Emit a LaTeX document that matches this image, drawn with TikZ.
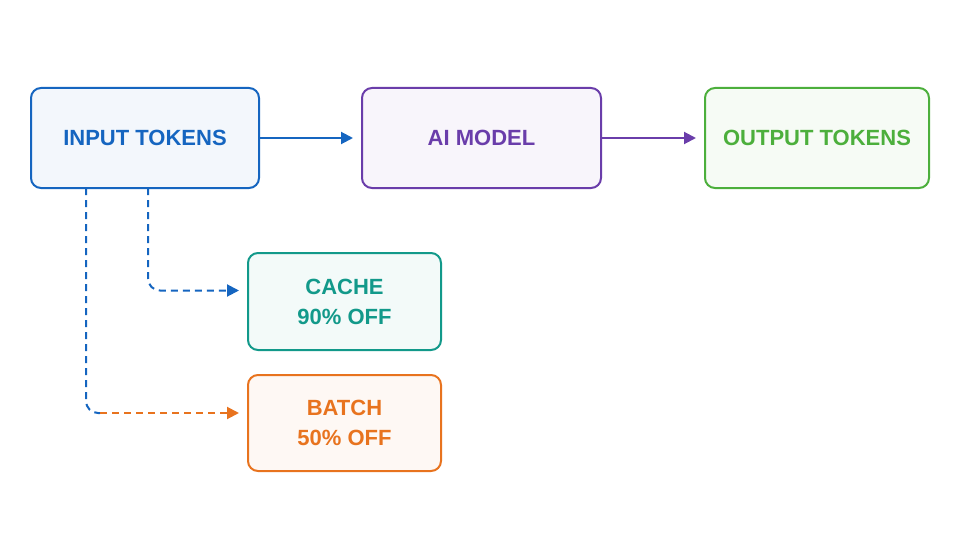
\documentclass[tikz,border=0pt]{standalone}
\usepackage{fontspec}
\setmainfont{Liberation Sans}
\usetikzlibrary{arrows.meta, positioning, calc}
\definecolor{cblue}{HTML}{1565C0}
\definecolor{cpurple}{HTML}{6A3DAA}
\definecolor{cgreen}{HTML}{4CAF3C}
\definecolor{cteal}{HTML}{12998A}
\definecolor{corange}{HTML}{E8731E}
\tikzset{
  box/.style={draw=#1, fill=#1!5, line width=2pt, rounded corners=10pt,
    text=#1, font=\bfseries\fontsize{22}{30}\selectfont, align=center},
  flow/.style={-{Triangle[length=12pt,width=12pt]}, line width=2pt, draw=#1},
  dashline/.style={dash pattern=on 7pt off 5pt},
}
\begin{document}
\begin{tikzpicture}[x=1pt, y=-1pt]
\useasboundingbox (0,0) rectangle (960,540);

% ---------------- Main row ----------------
\node[box=cblue, minimum width=228pt, minimum height=100pt] (input) at (145,138) {INPUT TOKENS};
\node[box=cpurple, minimum width=239pt, minimum height=100pt] (model) at (481.5,138) {AI MODEL};
\node[box=cgreen, minimum width=224pt, minimum height=100pt] (output) at (817,138) {OUTPUT TOKENS};
\draw[flow=cblue] (input.east) -- ([xshift=-8pt]model.west);
\draw[flow=cpurple] (model.east) -- ([xshift=-8pt]output.west);

% ---------------- Discounts ----------------
\node[box=cteal, minimum width=193pt, minimum height=97pt] (cache) at (344.5,301.5) {CACHE\\90\% OFF};
\node[box=corange, minimum width=193pt, minimum height=96pt] (batch) at (344.5,423) {BATCH\\50\% OFF};

\coordinate (c1) at (148,188);
\coordinate (b1) at (86,188);
\coordinate (cin) at ([xshift=-8pt,yshift=11pt]cache.west);
\coordinate (bin) at ([xshift=-8pt,yshift=10pt]batch.west);
\coordinate (bturn) at (100,413);
\draw[flow=cblue, dashline, rounded corners=12pt] (c1) |- (cin);
\draw[cblue, dashline, line width=2pt, rounded corners=12pt] (b1) |- (bturn);
\draw[flow=corange, dashline] (bturn) -- (bin);
\end{tikzpicture}
\end{document}
